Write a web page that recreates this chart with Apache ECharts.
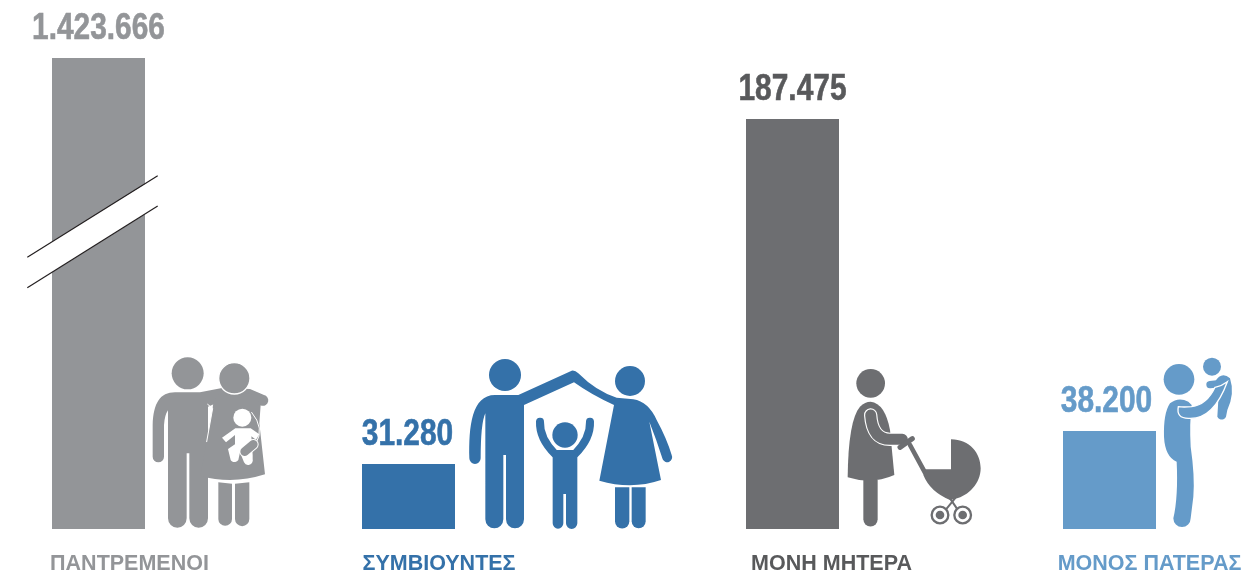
<!DOCTYPE html>
<html>
<head>
<meta charset="utf-8">
<style>
  html, body { margin: 0; padding: 0; background: #fff; }
  #chart { width: 1244px; height: 573px; }
</style>
<script src="https://cdn.jsdelivr.net/npm/echarts@6/dist/echarts.min.js"></script>
</head>
<body>
<div id="chart"></div>
<script>
// data
const categories = ['ΠΑΝΤΡΕΜΕΝΟΙ', 'ΣΥΜΒΙΟΥΝΤΕΣ', 'ΜΟΝΗ ΜΗΤΕΡΑ', 'ΜΟΝΟΣ ΠΑΤΕΡΑΣ'];
const values = [1423666, 31280, 187475, 38200];

// the source bars are not on one common scale, so every panel has its own axis
const axisMax = [1423666, 226700, 215400, 183600];
const panelLeft = [52, 362, 746, 1063];
const labelShift = [62, 61, 78, 80];
const valueShift = [0, -1, 0, -3];

const GREY = '#939598', BLUE = '#3471a9', DARK = '#6d6e71', LIGHT = '#659bc9';
const barColors = [GREY, BLUE, DARK, LIGHT];
const valueColors = [GREY, BLUE, '#58595b', LIGHT];
const nameColors = [GREY, BLUE, '#58595b', LIGHT];

const dotted = v => String(v).replace(/\B(?=(\d{3})+$)/g, '.');

// icon helpers, coordinates are in 3x units relative to the group origin
const blob = (d, fill, stroke, w) => ({
  type: 'path', shape: { pathData: d },
  style: { fill: fill, stroke: stroke || 'none', lineWidth: w || 0 }
});
const dot = (cx, cy, r, fill, stroke, w) => ({
  type: 'circle', shape: { cx: cx, cy: cy, r: r },
  style: { fill: fill, stroke: stroke || 'none', lineWidth: w || 0 }
});
const limb = (d, color, w) => ({
  type: 'path', shape: { pathData: d },
  style: { fill: 'none', stroke: color, lineWidth: w, lineCap: 'round', lineJoin: 'round' }
});
const icon = (x, y, children) => ({ type: 'group', x: x, y: y, scaleX: 1 / 3, scaleY: 1 / 3, children: children });

const coupleIcon = icon(140, 345, [
  blob('M38 335 L38 240 C40 175 60 142 105 142 L180 142 L250 128 L330 132 L372 150 A15 15 0 0 1 365 182 L330 172 L250 165 L204 185 L204 520 A28 28 0 0 1 148 520 L148 325 L140 325 L140 520 A28 28 0 0 1 84 520 L84 196 Q74 210 72 240 L72 335 A17 17 0 0 1 38 335 Z', GREY),
  dot(143, 85, 48, GREY),
  blob('M235 148 Q218 170 218 190 L181 392 Q275 420 375 388 L358 235 L362 180 Q345 150 325 143 Q285 160 235 148 Z', GREY),
  limb('M203 178 L218 190 L200 290', '#fff', 3),
  dot(283, 100, 47, GREY, '#fff', 4),
  blob('M235 412 L276 416 L276 522 A20 20 0 0 1 235 522 Z', GREY),
  blob('M285 416 L328 412 L328 522 A21 21 0 0 1 285 522 Z', GREY),
  limb('M335 202 Q375 250 348 295', '#fff', 3),
  dot(307, 218, 27, '#fff'),
  blob('M286 250 L332 250 L358 268 L348 284 L334 274 L338 330 L338 342 A14 14 0 0 1 312 352 L300 322 L295 345 A14 14 0 0 1 272 345 L264 312 L285 298 L285 270 L258 292 L246 278 Z', '#fff'),
  limb('M340 298 L314 320', '#fff', 32),
  limb('M340 298 L314 320', GREY, 26)
]);

const familyIcon = icon(460, 350, [
  blob('M28 325 C26 230 35 135 105 135 L175 135 L335 62 Q345 60 355 70 Q410 125 470 143 L520 148 Q565 155 590 210 Q620 265 635 315 A14 14 0 0 1 608 328 Q590 270 568 215 L603 390 Q515 420 418 392 L462 165 Q395 135 342 97 L192 165 L192 508 A27 27 0 0 1 138 508 L138 315 L130 315 L130 508 A27 27 0 0 1 76 508 L76 190 Q62 220 62 325 A17 17 0 0 1 28 325 Z', BLUE),
  dot(135, 75, 48, BLUE),
  dot(510, 93, 45, BLUE),
  blob('M465 412 L508 412 L508 514 A21 21 0 0 1 465 514 Z', BLUE),
  blob('M515 412 L557 412 L557 514 A21 21 0 0 1 515 514 Z', BLUE),
  dot(315, 255, 38, BLUE),
  limb('M240 215 Q238 265 285 312', BLUE, 24),
  limb('M390 215 Q392 265 345 312', BLUE, 24),
  blob('M278 300 L352 300 L352 520 A17 17 0 0 1 318 520 L318 432 L310 432 L310 520 A16 16 0 0 1 278 520 Z', BLUE)
]);

const motherIcon = icon(835, 360, [
  dot(107, 70, 43, DARK),
  blob('M107 125 Q150 130 165 210 L178 345 Q110 375 38 352 Q40 180 75 140 Q90 125 107 125 Z', DARK),
  blob('M85 360 L128 360 L128 478 A21 21 0 0 1 85 478 Z', DARK),
  limb('M107 165 Q112 238 165 238 L202 238', '#fff', 40),
  limb('M107 165 Q112 238 165 238 L202 238', DARK, 33),
  limb('M232 236 L195 262', DARK, 15),
  limb('M225 255 L270 338', DARK, 14),
  blob('M270 328 L348 328 L348 238 C405 238 437 280 437 325 C437 370 400 408 362 416 L345 420 Q285 395 265 345 Z', DARK),
  limb('M345 415 L370 452', DARK, 6),
  limb('M360 415 L330 452', DARK, 6),
  dot(315, 465, 25, '#fff', DARK, 7),
  dot(315, 465, 13, DARK),
  dot(383, 465, 25, '#fff', DARK, 7),
  dot(383, 465, 13, DARK)
]);

const fatherIcon = icon(1150, 350, [
  dot(87, 88, 46, LIGHT),
  dot(186, 50, 27, LIGHT),
  blob('M60 160 Q85 140 115 155 L125 165 Q118 220 122 290 Q135 380 130 440 L122 505 A26 26 0 0 1 70 505 Q85 440 80 335 Q45 320 42 260 Q40 190 60 160 Z', LIGHT),
  blob('M195 95 Q215 62 240 85 Q255 130 232 180 L228 200 A14 14 0 0 1 202 200 L205 150 Z', LIGHT),
  limb('M180 104 L215 100', LIGHT, 22),
  blob('M85 170 Q78 205 115 205 Q190 210 232 95 Q215 108 195 112 Q170 165 125 170 Q100 172 85 170 Z', LIGHT, '#fff', 4)
]);

// white gap and the two slanted lines of the broken first bar
const breakMark = [
  { type: 'polygon', z: 10, shape: { points: [[27, 257], [158, 176], [158, 206], [27, 288]] }, style: { fill: '#fff' } },
  { type: 'line', z: 10, shape: { x1: 27.3, y1: 257.3, x2: 157.7, y2: 175.7 }, style: { stroke: '#231f20', lineWidth: 1.2 } },
  { type: 'line', z: 10, shape: { x1: 27.3, y1: 287.7, x2: 157.7, y2: 206 }, style: { stroke: '#231f20', lineWidth: 1.2 } }
];

const barSeries = categories.map((name, i) => ({
  type: 'bar',
  name: name,
  xAxisIndex: i,
  yAxisIndex: i,
  barWidth: '100%',
  data: [values[i]],
  itemStyle: { color: barColors[i] }
}));

// value labels sit on the bar top; no condensed font here, so the text gets squeezed
const valueSeries = categories.map((name, i) => ({
  type: 'custom',
  xAxisIndex: i,
  yAxisIndex: i,
  silent: true,
  data: [[0, values[i]]],
  renderItem: (params, api) => {
    const top = api.coord([api.value(0), api.value(1)]);
    return {
      type: 'text',
      x: top[0] + valueShift[i],
      y: top[1] - 29,
      scaleX: 0.83,
      style: {
        text: dotted(api.value(1)),
        fill: valueColors[i],
        stroke: valueColors[i],
        lineWidth: 0.6,
        fontFamily: 'Liberation Sans',
        fontWeight: 'bold',
        fontSize: 36,
        align: 'center',
        verticalAlign: 'middle'
      }
    };
  }
}));

// pictograms, graphic component has no free path type so they go through a custom series
const iconSeries = {
  type: 'custom',
  coordinateSystem: 'none',
  silent: true,
  data: [0],
  renderItem: () => ({ type: 'group', children: [coupleIcon, familyIcon, motherIcon, fatherIcon] })
};

const chart = echarts.init(document.getElementById('chart'));

chart.setOption({
  animation: false,
  backgroundColor: '#fff',
  grid: categories.map((_, i) => ({ left: panelLeft[i], width: 93, top: 58, height: 471, outerBoundsMode: 'none' })),
  xAxis: categories.map((name, i) => ({
    type: 'category',
    gridIndex: i,
    data: [name],
    axisLine: { show: false },
    axisTick: { show: false },
    axisLabel: {
      interval: 0,
      margin: 24,
      padding: [0, 0, 0, labelShift[i]],
      color: nameColors[i],
      fontFamily: 'Liberation Sans',
      fontWeight: 'bold',
      fontSize: 21.5
    }
  })),
  yAxis: categories.map((_, i) => ({
    type: 'value',
    gridIndex: i,
    min: 0,
    max: axisMax[i],
    show: false
  })),
  series: barSeries.concat(valueSeries, iconSeries),
  graphic: { elements: breakMark }
});
</script>
</body>
</html>
